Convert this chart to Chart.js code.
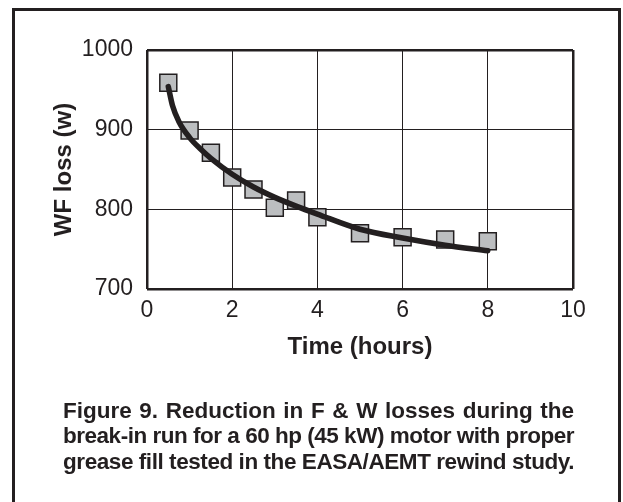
<!DOCTYPE html>
<html>
<head>
<meta charset="utf-8">
<script src="https://cdn.jsdelivr.net/npm/chart.js@4.4.1/dist/chart.umd.min.js"></script>
<style>
  html, body { margin: 0; padding: 0; background: #ffffff; width: 623px; height: 502px; overflow: hidden; }
  #frame { position: absolute; left: 12px; top: 8px; width: 603px; height: 520px; border: 3px solid #231f20; box-sizing: content-box; }
  #c { position: absolute; left: 0; top: 0; }
  .cap { position: absolute; left: 63px; width: 511px; height: 25.5px; line-height: 25.5px;
         font: bold 22.5px "Liberation Sans", Arial, Helvetica, sans-serif; color: #231f20; white-space: nowrap; }
  .cap span { display: inline-block; transform-origin: 0 50%; }
</style>
</head>
<body>
<div id="frame"></div>
<canvas id="c" width="623" height="502"></canvas>
<div class="cap" style="top:397.6px"><span>Figure 9. Reduction in F &amp; W losses during the</span></div>
<div class="cap" style="top:423.1px"><span>break-in run for a 60 hp (45 kW) motor with proper</span></div>
<div class="cap" style="top:448.6px"><span>grease fill tested in the EASA/AEMT rewind study.</span></div>
<script>
// Measured data (WF loss, watts, vs time, hours)
const timeHours = [0.5, 1, 1.5, 2, 2.5, 3, 3.5, 4, 5, 6, 7, 8];
const wfLoss    = [959, 899, 871, 840, 825, 802, 811, 790, 770, 765, 762, 760];

// Trend curve
const trendHours = [0.5, 0.6, 0.75, 1, 1.25, 1.5, 2, 2.5, 3, 3.5, 4, 5, 6, 7, 8];
const trendLoss  = [954, 930, 910, 890, 876, 864, 844, 828, 815, 804, 794, 775, 764, 755, 748];

// Axis tick settings
const xTicks = [0, 2, 4, 6, 8, 10];
const yTicks = [700, 800, 900, 1000];

const xTitle = 'Time (hours)';
const yTitle = 'WF loss (w)';

const ink = '#231f20';
const fontFam = '"Liberation Sans", Arial, Helvetica, sans-serif';

const pts = timeHours.map((t, i) => ({ x: t, y: wfLoss[i] }));
const trend = trendHours.map((t, i) => ({ x: t, y: trendLoss[i] }));

function gridWidth(ctx, n) {
  return (ctx.index === 0 || ctx.index === n - 1) ? 2.5 : 1;
}

new Chart(document.getElementById('c'), {
  type: 'scatter',
  data: {
    datasets: [
      {
        type: 'line',
        data: trend,
        borderColor: ink,
        borderWidth: 5.5,
        pointRadius: 0,
        cubicInterpolationMode: 'monotone',
        borderCapStyle: 'round',
        fill: false,
        order: 0
      },
      {
        type: 'scatter',
        data: pts,
        pointStyle: 'rect',
        pointRadius: 12,
        backgroundColor: '#bcbec0',
        borderColor: ink,
        borderWidth: 1.5,
        order: 1
      }
    ]
  },
  options: {
    responsive: false,
    animation: false,
    events: [],
    layout: { padding: { left: 0, top: 50, right: 50, bottom: 138 } },
    plugins: { legend: { display: false }, tooltip: { enabled: false } },
    scales: {
      x: {
        type: 'linear',
        min: xTicks[0],
        max: xTicks[xTicks.length - 1],
        afterBuildTicks: s => { s.ticks = xTicks.map(v => ({ value: v })); },
        afterFit: s => { s.height = 75; },
        ticks: { color: ink, font: { family: fontFam, size: 23 }, padding: 8, maxRotation: 0,
                 callback: v => String(v) },
        grid: { color: ink, lineWidth: c => gridWidth(c, xTicks.length), drawTicks: false },
        border: { display: false },
        title: { display: true, text: xTitle, color: ink, font: { family: fontFam, size: 24, weight: 'bold' }, padding: { top: 4, bottom: 2 } }
      },
      y: {
        type: 'linear',
        min: yTicks[0],
        max: yTicks[yTicks.length - 1],
        afterBuildTicks: s => { s.ticks = yTicks.map(v => ({ value: v })); },
        afterFit: s => { s.width = 147; },
        ticks: { color: ink, font: { family: fontFam, size: 23 }, padding: 14,
                 callback: v => String(v) },
        grid: { color: ink, lineWidth: c => gridWidth(c, yTicks.length), drawTicks: false },
        border: { display: false },
        title: { display: true, text: yTitle, color: ink, font: { family: fontFam, size: 24, weight: 'bold' }, padding: { top: 50, bottom: 0 } }
      }
    }
  }
});

// Justify caption lines to the full width
const target = 511;
document.querySelectorAll('.cap span').forEach(sp => {
  const txt = sp.textContent;
  const n = txt.length;
  const spaces = (txt.match(/ /g) || []).length;
  let w = sp.getBoundingClientRect().width;
  if (w > target) {
    const ls = Math.max((target - w) / n, -1.0);
    sp.style.letterSpacing = ls + 'px';
    w = sp.getBoundingClientRect().width;
  }
  let ws = (target - w) / spaces;
  if (ws < -3) ws = -3;
  sp.style.wordSpacing = ws + 'px';
  w = sp.getBoundingClientRect().width;
  if (w > target + 0.5) {
    sp.style.transform = 'scaleX(' + (target / w) + ')';
  }
});
</script>
</body>
</html>
